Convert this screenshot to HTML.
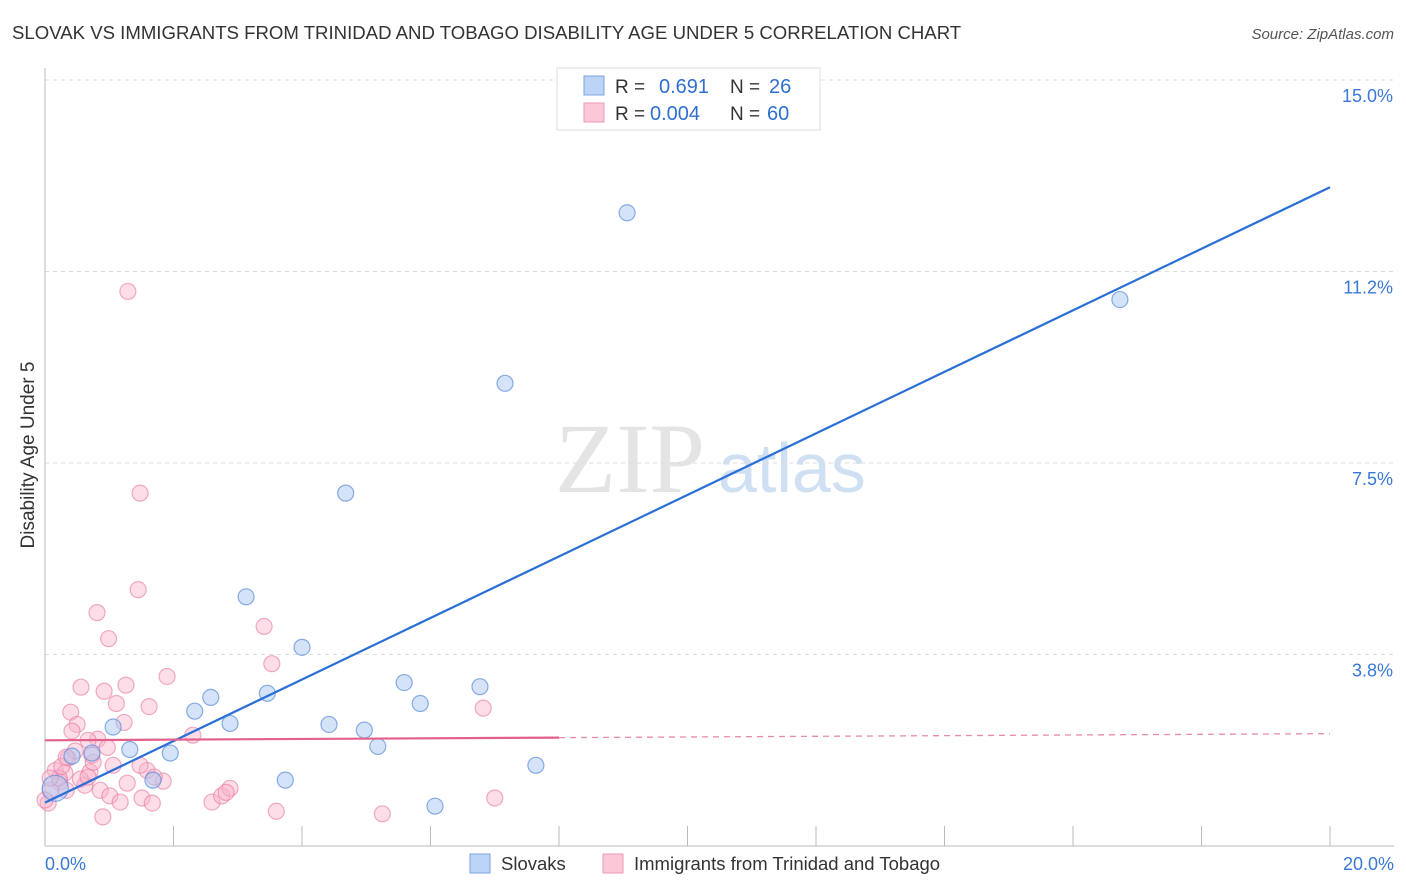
<!DOCTYPE html>
<html><head><meta charset="utf-8"><style>
body{margin:0;background:#fff;font-family:"Liberation Sans",sans-serif}
svg{display:block}
</style></head><body>
<svg id="chart" width="1406" height="892" xmlns="http://www.w3.org/2000/svg">
<text x="12" y="39" font-size="18.6" fill="#333">SLOVAK VS IMMIGRANTS FROM TRINIDAD AND TOBAGO DISABILITY AGE UNDER 5 CORRELATION CHART</text>
<text x="1394" y="39" font-size="15" fill="#555" font-style="italic" text-anchor="end">Source: ZipAtlas.com</text>
<text x="555" y="492" font-size="100" fill="#e4e4e4" font-family="Liberation Serif,serif">ZIP</text>
<text x="718" y="492" font-size="70" fill="#cfe0f3">atlas</text>
<text transform="translate(34,455) rotate(-90)" font-size="19" fill="#333" text-anchor="middle">Disability Age Under 5</text>
<g id="grid"></g><g id="axes"></g><g id="pts"></g><g id="lines"></g>
<g>
<rect x="557" y="68" width="263" height="62" fill="#fff" stroke="#ddd"/>
<rect x="584" y="76" width="20" height="19" fill="#bcd4f5" stroke="#7ba4e0"/>
<rect x="584" y="103" width="20" height="19" fill="#fbc8d8" stroke="#ee9ab5"/>
<text x="615" y="93" font-size="19" fill="#333">R = </text><text x="659" y="93" font-size="20" fill="#2f6fd0">0.691</text>
<text x="730" y="93" font-size="19" fill="#333">N = </text><text x="769" y="93" font-size="20" fill="#2f6fd0">26</text>
<text x="615" y="120" font-size="19" fill="#333">R = </text><text x="650" y="120" font-size="20" fill="#2f6fd0">0.004</text>
<text x="730" y="120" font-size="19" fill="#333">N = </text><text x="767" y="120" font-size="20" fill="#2f6fd0">60</text>
</g>
<g>
<rect x="470" y="854" width="20" height="19" fill="#bcd4f5" stroke="#7ba4e0"/>
<text x="501" y="870" font-size="18.5" fill="#333">Slovaks</text>
<rect x="603" y="854" width="20" height="19" fill="#fbc8d8" stroke="#ee9ab5"/>
<text x="634" y="870" font-size="18.5" fill="#333">Immigrants from Trinidad and Tobago</text>
</g>
</svg>
<script>
const yTicks=[3.75,7.5,11.25,15];
const yTickLabels=["3.8%","7.5%","11.2%","15.0%"];
const xTickLabels=["0.0%","20.0%"];
const blueX=[9.06,16.73,7.16,4.68,3.13,4.0,2.58,3.46,2.33,2.88,1.06,1.32,1.95,0.73,0.42,1.68,3.74,4.42,4.97,5.18,5.59,5.84,6.77,7.64,6.07,0.16];
const blueY=[12.4,10.7,9.06,6.91,4.88,3.89,2.91,2.99,2.64,2.40,2.33,1.89,1.82,1.82,1.76,1.29,1.29,2.38,2.27,1.95,3.20,2.79,3.12,1.58,0.78,1.13];
const pinkX=[1.29,1.48,1.45,0.81,0.99,3.41,3.53,1.9,0.56,0.92,1.26,1.11,1.62,0.40,0.50,1.23,6.82,0.82,0.67,2.3,0.42,0.36,0.47,0.97,0.16,0.31,0.70,1.06,1.59,1.84,1.70,1.28,0.23,0.08,0.62,0.86,1.01,1.17,1.51,1.67,2.6,2.75,2.88,3.6,5.25,7.0,0.90,0.05,0.22,0.55,0.0,0.75,0.26,0.08,0.33,0.67,2.82,0.73,0.33,1.48];
const pinkY=[10.86,6.91,5.02,4.57,4.06,4.30,3.57,3.32,3.11,3.03,3.15,2.79,2.73,2.62,2.38,2.42,2.70,2.09,2.07,2.17,2.25,1.72,1.86,1.93,1.48,1.43,1.45,1.58,1.48,1.27,1.35,1.23,1.25,1.09,1.19,1.09,0.98,0.86,0.94,0.84,0.86,0.98,1.13,0.68,0.63,0.94,0.57,0.84,1.33,1.31,0.90,1.64,1.56,1.33,1.09,1.35,1.05,1.78,1.74,1.58];
const blueLine=[0.85,12.9];
const pinkLine=[2.07,2.2];
const X0=45,X1=1330,Y0=846,Y15=80;
const sx=v=>X0+v/20*(X1-X0), sy=v=>Y0-v/15*(Y0-Y15);
const NS="http://www.w3.org/2000/svg";
function mk(t,a,p){const e=document.createElementNS(NS,t);for(const k in a)e.setAttribute(k,a[k]);document.getElementById(p).appendChild(e);return e;}
yTicks.forEach((v,i)=>{
 const l=mk('line',{x1:X0,x2:1394,y1:sy(v),y2:sy(v),stroke:'#ddd','stroke-dasharray':'4,4'},'grid');
 
 
 const t=mk('text',{x:1393,y:sy(v)+22,'font-size':18,fill:'#3a78d8','text-anchor':'end'},'grid');
 t.textContent=yTickLabels[i];
 
 
});
const ax=mk('line',{x1:X0,x2:X0,y1:68,y2:Y0,stroke:'#bbb'},'axes');


const bx=mk('line',{x1:X0,x2:1394,y1:Y0,y2:Y0,stroke:'#bbb'},'axes');


for(let i=1;i<=10;i++){const tk=mk('line',{x1:sx(i*2),x2:sx(i*2),y1:Y0-20,y2:Y0,stroke:'#bbb'},'axes');
 
 }
[[0,'start',45],[20,'end',1394]].forEach((d,i)=>{const t=mk('text',{x:d[2],y:870,'font-size':18,fill:'#3a78d8','text-anchor':d[1]},'axes');t.textContent=xTickLabels[i];
 
 });
pinkX.forEach((x,i)=>{const c=mk('circle',{cx:sx(x),cy:sy(pinkY[i]),r:8,fill:'rgba(248,180,203,0.45)',stroke:'rgba(232,120,160,0.6)','stroke-width':1.2},'pts');
 
 });
blueX.forEach((x,i)=>{const c=mk('circle',{cx:sx(x),cy:sy(blueY[i]),r:i==25?13:8,fill:'rgba(170,200,242,0.5)',stroke:'rgba(90,140,220,0.7)','stroke-width':1.2},'pts');
 
 });
const bl=mk('line',{x1:sx(0),y1:sy(blueLine[0]),x2:sx(20),y2:sy(blueLine[1]),stroke:'#2a6fd6','stroke-width':2.2},'lines');


const pm=pinkLine[0]+(pinkLine[1]-pinkLine[0])*0.4;
const pl=mk('line',{x1:sx(0),y1:sy(pinkLine[0]),x2:sx(8),y2:sy(pm),stroke:'#e35f8c','stroke-width':2.2},'lines');


const pd=mk('line',{x1:sx(8),y1:sy(pm),x2:sx(20),y2:sy(pinkLine[1]),stroke:'#e88aaa','stroke-width':1.3,'stroke-dasharray':'6,5'},'lines');


</script>
</body></html>
